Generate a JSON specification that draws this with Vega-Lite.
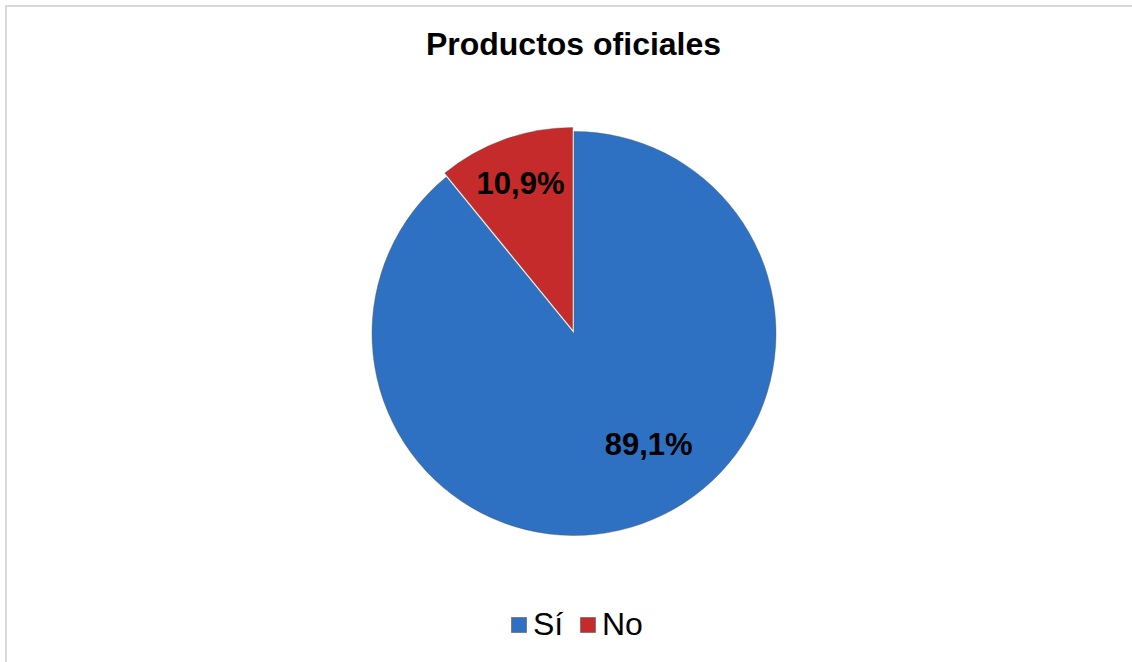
{
  "$schema": "https://vega.github.io/schema/vega-lite/v6.json",
  "width": 1130,
  "height": 660,
  "autosize": "none",
  "padding": {"left": 6, "top": 6, "right": -4, "bottom": -4},
  "background": "white",
  "view": {"stroke": "#d9d9d9", "strokeWidth": 2, "fill": "white"},
  "title": {
    "text": "Productos oficiales",
    "font": "Liberation Sans",
    "fontSize": 32,
    "fontWeight": "bold",
    "color": "#000000",
    "anchor": "middle",
    "offset": -56,
    "dx": 2.5
  },
  "data": {
    "values": [
      {"cat": "Sí", "value": 89.1, "label": "89,1%"},
      {"cat": "No", "value": 10.9, "label": "10,9%"}
    ]
  },
  "transform": [
    {"stack": "value", "groupby": [], "sort": [{"field": "value", "order": "descending"}], "as": ["v0", "v1"]}
  ],
  "encoding": {
    "color": {
      "field": "cat",
      "type": "nominal",
      "scale": {"domain": ["Sí", "No"], "range": ["#2E70C2", "#C42B2A"]},
      "legend": {
        "title": null,
        "orient": "none",
        "direction": "horizontal",
        "legendX": 497,
        "legendY": 603,
        "labelFont": "Liberation Sans",
        "labelFontSize": 32,
        "labelColor": "#000000",
        "symbolType": "square",
        "symbolSize": 225,
        "symbolStrokeWidth": 0.6,
        "symbolStrokeColor": "#5a5a5a",
        "labelOffset": -2,
        "columnPadding": 8,
        "padding": 0
      }
    }
  },
  "layer": [
    {
      "transform": [{"filter": "datum.cat === 'Sí'"}],
      "mark": {"type": "arc", "radius": 202, "xOffset": 3, "yOffset": -2.5, "stroke": "#5a5a5a", "strokeWidth": 0.6, "strokeOpacity": 0.7},
      "encoding": {
        "theta": {"field": "v0", "type": "quantitative", "scale": {"domain": [0, 100]}},
        "theta2": {"field": "v1"}
      }
    },
    {
      "transform": [{"filter": "datum.cat === 'No'"}],
      "mark": {"type": "arc", "radius": 202, "xOffset": 1.6, "yOffset": -6.5, "stroke": "#5a5a5a", "strokeWidth": 0.6, "strokeOpacity": 0.7},
      "encoding": {
        "theta": {"field": "v0", "type": "quantitative", "scale": {"domain": [0, 100]}},
        "theta2": {"field": "v1"}
      }
    },
    {
      "mark": {"type": "text", "radius": 130, "xOffset": 3, "yOffset": -2.5, "dx": 31, "dy": -10, "font": "Liberation Sans", "fontSize": 31, "fontWeight": "bold", "align": "center", "baseline": "middle"},
      "encoding": {
        "theta": {"field": "value", "type": "quantitative", "stack": true, "scale": {"domain": [0, 100]}},
        "order": {"field": "value", "sort": "descending"},
        "text": {"condition": {"test": "datum.cat === 'Sí'", "field": "label"}, "value": ""},
        "color": {"value": "#000000"}
      }
    },
    {
      "mark": {"type": "text", "radius": 155, "xOffset": 1.6, "yOffset": -4.5, "font": "Liberation Sans", "fontSize": 31, "fontWeight": "bold", "align": "center", "baseline": "middle"},
      "encoding": {
        "theta": {"field": "value", "type": "quantitative", "stack": true, "scale": {"domain": [0, 100]}},
        "order": {"field": "value", "sort": "descending"},
        "text": {"condition": {"test": "datum.cat === 'No'", "field": "label"}, "value": ""},
        "color": {"value": "#000000"}
      }
    }
  ]
}
